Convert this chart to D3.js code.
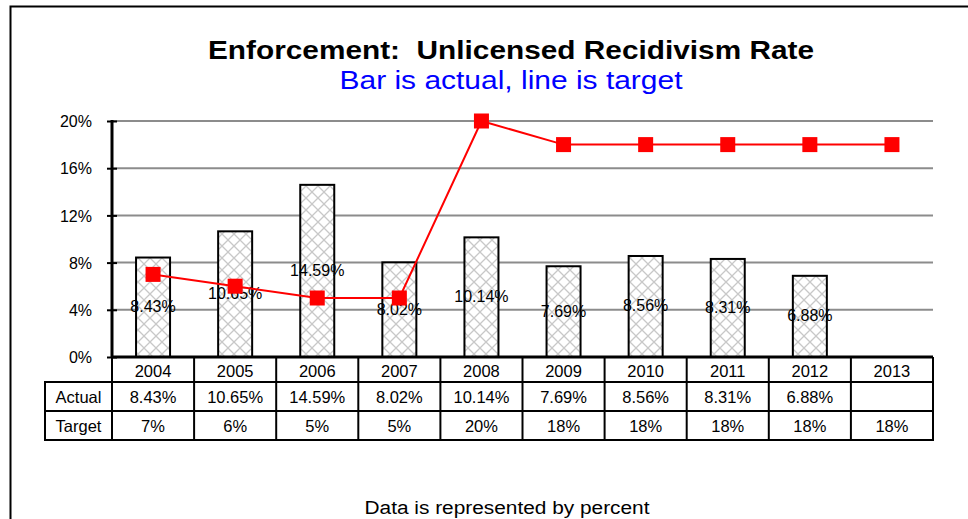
<!DOCTYPE html>
<html><head><meta charset="utf-8">
<script src="https://cdn.jsdelivr.net/npm/d3@7"></script>
<style>body{margin:0;background:#fff}svg{display:block;font-family:"Liberation Sans",Arial,sans-serif}</style>
</head><body><svg id="c" width="968" height="519"></svg>
<script>
const years = ["2004","2005","2006","2007","2008","2009","2010","2011","2012","2013"];
const actual = [8.43,10.65,14.59,8.02,10.14,7.69,8.56,8.31,6.88,null];
const target = [7,6,5,5,20,18,18,18,18,18];
const targetLabels = ["7%","6%","5%","5%","20%","18%","18%","18%","18%","18%"];
const yTicks = [0,4,8,12,16,20];
const rowNames = ["Actual","Target"];

const svg = d3.select("#c");
const W = 968, H = 519;
const m = {left:112, right:933, top:121, bottom:357};

// outer frame
svg.append("path").attr("d",`M10.5,${H+2} V6.5 H${W+2}`).attr("fill","none").attr("stroke","#000").attr("stroke-width",2);

// pattern
const defs = svg.append("defs");
const pat = defs.append("pattern").attr("id","hatch").attr("patternUnits","userSpaceOnUse").attr("width",12).attr("height",12);
pat.append("rect").attr("width",12).attr("height",12).attr("fill","#fff");
pat.append("path").attr("d","M0,0 L12,12 M12,0 L0,12").attr("stroke","#c8c8c8").attr("stroke-width",1.3);

const x = d3.scaleBand().domain(years).range([m.left,m.right]).paddingInner(0).paddingOuter(0);
const y = d3.scaleLinear().domain([0,20]).range([m.bottom,m.top]);

// gridlines
svg.append("g").selectAll("line").data(yTicks.filter(d=>d>0)).join("line")
  .attr("x1",m.left).attr("x2",m.right).attr("y1",d=>y(d)).attr("y2",d=>y(d))
  .attr("stroke","#8c8c8c").attr("stroke-width",2);

// y axis
const ya = svg.append("g").attr("transform",`translate(${m.left},0)`)
  .call(d3.axisLeft(y).tickValues(yTicks).tickFormat(d=>d+"%").tickSize(6).tickPadding(9));
ya.select(".domain").remove();
ya.selectAll(".tick line").attr("x2",5).attr("x1",-5).attr("stroke","#000").attr("stroke-width",2);
ya.selectAll(".tick text").attr("font-size",16).attr("fill","#000").attr("font-family","Liberation Sans, Arial, sans-serif").attr("dx",-5).attr("dy","0.36em");
svg.append("line").attr("x1",m.left).attr("x2",m.left).attr("y1",m.top-1).attr("y2",m.bottom).attr("stroke","#000").attr("stroke-width",3);

// bars
const bw = 34;
const bars = years.map((yr,i)=>({yr,v:actual[i]})).filter(d=>d.v!=null);
svg.append("g").selectAll("rect").data(bars).join("rect")
  .attr("x",d=>x(d.yr)+x.bandwidth()/2-bw/2).attr("width",bw)
  .attr("y",d=>y(d.v)).attr("height",d=>y(0)-y(d.v))
  .attr("fill","url(#hatch)").attr("stroke","#000").attr("stroke-width",2);

// bar labels
svg.append("g").selectAll("text").data(bars).join("text")
  .attr("x",d=>x(d.yr)+x.bandwidth()/2).attr("y",d=>(y(d.v)+y(0))/2+5)
  .attr("text-anchor","middle").attr("font-size",16).attr("fill","#000")
  .text(d=>d.v.toFixed(2)+"%");

// target line
const pts = years.map((yr,i)=>({yr,v:target[i]}));
svg.append("path").datum(pts)
  .attr("d",d3.line().x(d=>x(d.yr)+x.bandwidth()/2).y(d=>y(d.v)))
  .attr("fill","none").attr("stroke","#ff0000").attr("stroke-width",2);
const ms = 15;
svg.append("g").selectAll("rect").data(pts).join("rect")
  .attr("x",d=>x(d.yr)+x.bandwidth()/2-ms/2).attr("y",d=>y(d.v)-ms/2)
  .attr("width",ms).attr("height",ms).attr("fill","#ff0000");

// table
const rowY = [357, 382, 411, 440];
const tbl = svg.append("g");
const tf = 16.5;
tbl.selectAll("text.yr").data(years).join("text").attr("class","yr")
  .attr("x",d=>x(d)+x.bandwidth()/2).attr("y",rowY[1]-5)
  .attr("text-anchor","middle").attr("font-size",tf).text(d=>d);
tbl.selectAll("text.ac").data(years).join("text").attr("class","ac")
  .attr("x",d=>x(d)+x.bandwidth()/2).attr("y",rowY[2]-8)
  .attr("text-anchor","middle").attr("font-size",tf)
  .text((d,i)=>actual[i]==null?"":actual[i].toFixed(2)+"%");
tbl.selectAll("text.tg").data(years).join("text").attr("class","tg")
  .attr("x",d=>x(d)+x.bandwidth()/2).attr("y",rowY[3]-8)
  .attr("text-anchor","middle").attr("font-size",tf)
  .text((d,i)=>targetLabels[i]);
tbl.selectAll("text.rn").data(rowNames).join("text").attr("class","rn")
  .attr("x",(45+m.left)/2).attr("y",(d,i)=>rowY[i+2]-8)
  .attr("text-anchor","middle").attr("font-size",tf).text(d=>d);

const lw = 2;
tbl.append("line").attr("x1",m.left).attr("x2",m.right).attr("y1",rowY[0]).attr("y2",rowY[0]).attr("stroke","#000").attr("stroke-width",3);
[1,2,3].forEach(k=>{
  tbl.append("line").attr("x1",45).attr("x2",m.right+1).attr("y1",rowY[k]).attr("y2",rowY[k]).attr("stroke","#000").attr("stroke-width",lw);
});
const vx = years.map(d=>x(d)).concat([m.right]);
tbl.selectAll("line.v").data(vx).join("line").attr("class","v")
  .attr("x1",d=>d).attr("x2",d=>d).attr("y1",rowY[0]).attr("y2",rowY[3]+1)
  .attr("stroke","#000").attr("stroke-width",lw);
tbl.append("line").attr("x1",45).attr("x2",45).attr("y1",rowY[1]-1).attr("y2",rowY[3]+1).attr("stroke","#000").attr("stroke-width",lw);

// titles
svg.append("text").attr("x",511).attr("y",59).attr("text-anchor","middle")
  .attr("font-size",25).attr("font-weight","bold").attr("fill","#000")
  .attr("xml:space","preserve").attr("textLength",606).attr("lengthAdjust","spacingAndGlyphs")
  .text("Enforcement:  Unlicensed Recidivism Rate");
svg.append("text").attr("x",511).attr("y",89).attr("text-anchor","middle")
  .attr("font-size",26).attr("fill","#0000ff").attr("textLength",343).attr("lengthAdjust","spacingAndGlyphs")
  .text("Bar is actual, line is target");
svg.append("text").attr("x",507).attr("y",514).attr("text-anchor","middle")
  .attr("font-size",18).attr("fill","#000").attr("textLength",285).attr("lengthAdjust","spacingAndGlyphs")
  .text("Data is represented by percent");
</script></body></html>
